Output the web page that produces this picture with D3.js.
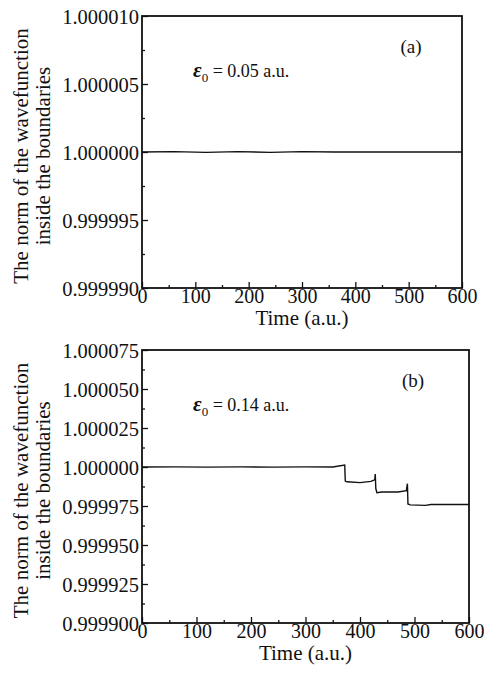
<!DOCTYPE html>
<html>
<head>
<meta charset="utf-8">
<script src="https://cdn.jsdelivr.net/npm/d3@7"></script>
<style>
  body { margin: 0; background: #fff; }
  text { font-family: "Liberation Serif", "Times New Roman", serif; fill: #111; }
</style>
</head>
<body>
<div class="canvas"></div>
<script>
// panel (a): eps0 = 0.05 a.u.
const timeA = [0, 60, 120, 180, 240, 300, 360, 420, 480, 540, 600];
const normA = [1.0, 1.00000003, 0.99999997, 1.00000003, 0.99999997, 1.00000003, 1.0, 1.0, 1.0, 1.0, 1.0];
const yTicksA = [0.99999, 0.999995, 1.0, 1.000005, 1.00001];

// panel (b): eps0 = 0.14 a.u.
const timeB = [0, 60, 120, 180, 240, 300, 350, 372, 373, 376, 400, 420, 427, 428, 429, 431, 440, 470, 485, 487, 488, 492, 520, 530, 600];
const normB = [1.0, 1.0000001, 0.9999999, 1.0000001, 0.9999999, 1.0000001, 1.0, 1.0000012, 0.999991, 0.9999905, 0.999990, 0.9999908, 0.9999918, 0.9999955, 0.9999862, 0.9999835, 0.999984, 0.999984, 0.9999848, 0.9999893, 0.9999763, 0.9999757, 0.9999754, 0.999976, 0.999976];
const yTicksB = [0.9999, 0.999925, 0.99995, 0.999975, 1.0, 1.000025, 1.00005, 1.000075];

const xTicks = [0, 100, 200, 300, 400, 500, 600];

const svg = d3.select('.canvas')
  .append('svg')
  .attr('width', 484)
  .attr('height', 674);

const drawPanel = (opt) => {
  const x = d3.scaleLinear().domain([0, 600]).range([opt.left, opt.right]);
  const y = d3.scaleLinear().domain(opt.yDomain).range([opt.bottom, opt.top]);
  const g = svg.append('g');

  // minor ticks (half way between the majors)
  const xMinor = d3.range(50, 600, 100);
  const yMinor = opt.yTicks.slice(1).map((v, i) => (v + opt.yTicks[i]) / 2);

  g.append('g')
    .attr('transform', `translate(0, ${opt.bottom})`)
    .call(d3.axisBottom(x).tickValues(xMinor).tickSizeInner(-3).tickSizeOuter(0).tickFormat(''));
  g.append('g')
    .attr('transform', `translate(${opt.left}, 0)`)
    .call(d3.axisLeft(y).tickValues(yMinor).tickSizeInner(-3).tickSizeOuter(0).tickFormat(''));

  const xAxisGroup = g.append('g')
    .attr('transform', `translate(0, ${opt.bottom})`)
    .call(d3.axisBottom(x).tickValues(xTicks).tickSizeInner(-6).tickSizeOuter(0).tickPadding(1).tickFormat(d3.format('d')));
  const yAxisGroup = g.append('g')
    .attr('transform', `translate(${opt.left}, 0)`)
    .call(d3.axisLeft(y).tickValues(opt.yTicks).tickSizeInner(-6).tickSizeOuter(0).tickPadding(3).tickFormat(d => d.toFixed(6)));

  g.selectAll('.tick line').attr('stroke', '#111').attr('stroke-width', 1.3);
  g.selectAll('.domain').remove();
  xAxisGroup.selectAll('text').attr('font-size', 20).attr('font-family', 'Liberation Serif');
  yAxisGroup.selectAll('text').attr('font-size', 20.5).attr('font-family', 'Liberation Serif').attr('dy', '0.35em');

  // frame
  g.append('rect')
    .attr('x', opt.left).attr('y', opt.top)
    .attr('width', opt.right - opt.left).attr('height', opt.bottom - opt.top)
    .attr('fill', 'none').attr('stroke', '#111').attr('stroke-width', 1.8);

  // data line
  const line = d3.line().x(d => x(d[0])).y(d => y(d[1]));
  g.append('path')
    .datum(opt.time.map((t, i) => [t, opt.norm[i]]))
    .attr('d', line)
    .attr('fill', 'none')
    .attr('stroke', '#111')
    .attr('stroke-width', 1.4);

  // labels
  g.append('text')
    .attr('x', (opt.left + opt.right) / 2).attr('y', opt.bottom + 37)
    .attr('text-anchor', 'middle').attr('font-size', 21)
    .text('Time (a.u.)');

  const cy = (opt.top + opt.bottom) / 2 + 4;
  g.append('text')
    .attr('transform', `translate(28, ${cy}) rotate(-90)`)
    .attr('text-anchor', 'middle').attr('font-size', 21)
    .text('The norm of the wavefunction');
  g.append('text')
    .attr('transform', `translate(50, ${cy}) rotate(-90)`)
    .attr('text-anchor', 'middle').attr('font-size', 21)
    .text('inside the boundaries');

  g.append('text')
    .attr('x', opt.tagX).attr('y', opt.top + 37)
    .attr('text-anchor', 'middle').attr('font-size', 19)
    .text(opt.tag);

  const eps = g.append('text')
    .attr('x', 193).attr('y', opt.top + 61)
    .attr('font-size', 18);
  eps.append('tspan').attr('font-style', 'italic').attr('font-weight', 'bold').attr('font-size', 21).text('ε');
  eps.append('tspan').attr('font-size', 13).attr('dy', 5).text('0');
  eps.append('tspan').attr('dy', -5).text(' = ' + opt.eps + ' a.u.');
};

drawPanel({
  left: 142, right: 462, top: 16, bottom: 288,
  yDomain: [0.99999, 1.00001], yTicks: yTicksA,
  time: timeA, norm: normA, tag: '(a)', tagX: 411, eps: '0.05'
});

drawPanel({
  left: 142, right: 469, top: 350, bottom: 623,
  yDomain: [0.9999, 1.000075], yTicks: yTicksB,
  time: timeB, norm: normB, tag: '(b)', tagX: 413, eps: '0.14'
});
</script>
</body>
</html>
